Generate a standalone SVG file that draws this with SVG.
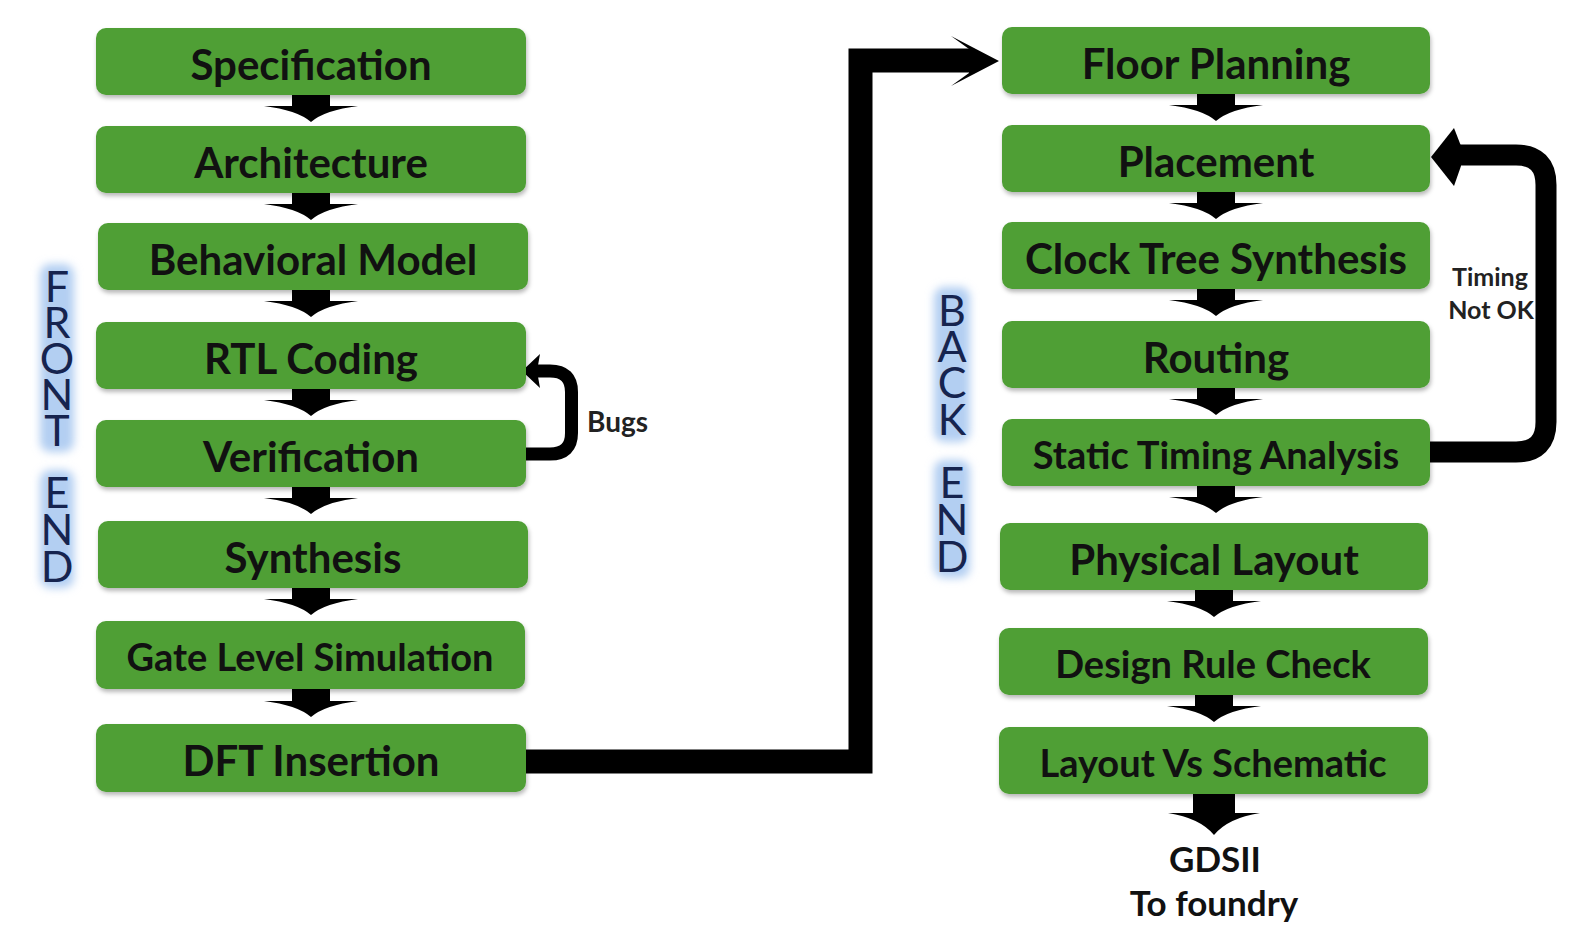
<svg xmlns="http://www.w3.org/2000/svg" width="1588" height="930" viewBox="0 0 1588 930">
<style>
.box{fill:#4f9f36;filter:url(#sh)}
.lbl{font-family:Lato,"Open Sans","Liberation Sans",sans-serif;font-weight:bold;fill:#111;text-anchor:middle;font-size:42px}
.sm{font-size:38px}
.side{font-family:Lato,"Open Sans","Liberation Sans",sans-serif;fill:#16244f;font-size:43px;text-anchor:middle}
.glow{fill:#b3cff2;filter:url(#gl)}
.note{font-family:Lato,"Open Sans","Liberation Sans",sans-serif;font-weight:bold;fill:#222}
.conn{fill:none;stroke:#000}
.ah{fill:#000}
</style>
<defs>
<filter id="sh" x="-5%" y="-15%" width="110%" height="140%"><feDropShadow dx="1" dy="3" stdDeviation="2" flood-color="#000" flood-opacity="0.28"/></filter>
<filter id="gl" x="-50%" y="-20%" width="200%" height="140%"><feGaussianBlur stdDeviation="4"/></filter>
<path id="darr" d="M-19,-2 H19 V11 H47 Q14,15 0,27 Q-14,15 -47,11 H-19 Z"/>
<path id="darr2" d="M-21,-2 H21 V19 H46 Q14,24 0,41 Q-14,24 -46,19 H-21 Z"/>
</defs>
<rect width="1588" height="930" fill="#fff"/>

<g id="front-end-label">
<rect class="glow" x="40" y="264" width="34" height="188" rx="10"/>
<rect class="glow" x="40" y="470" width="34" height="118" rx="10"/>
<text class="side" x="57 57 57 57 57" y="302 338 374 410 446">FRONT</text>
<text class="side" x="57 57 57" y="508 545 582">END</text>
</g>
<g id="back-end-label">
<rect class="glow" x="934" y="287" width="36" height="155" rx="10"/>
<rect class="glow" x="934" y="460" width="36" height="118" rx="10"/>
<text class="side" x="952 952 952 952" y="326 362 398 435">BACK</text>
<text class="side" x="952 952 952" y="498 535 572">END</text>
</g>

<g id="connectors">
<use href="#darr" x="311" y="95"/>
<use href="#darr" x="311" y="193"/>
<use href="#darr" x="311" y="290"/>
<use href="#darr" x="311" y="389"/>
<use href="#darr" x="311" y="487"/>
<use href="#darr" x="311" y="588"/>
<use href="#darr" x="311" y="690"/>
<use href="#darr" x="1216" y="94"/>
<use href="#darr" x="1216" y="192"/>
<use href="#darr" x="1216" y="289"/>
<use href="#darr" x="1216" y="388"/>
<use href="#darr" x="1216" y="486"/>
<use href="#darr" x="1214" y="590"/>
<use href="#darr" x="1214" y="695"/>
<use href="#darr2" x="1214" y="794"/>
<path class="conn" stroke-width="13" d="M524 454 H550 Q571.5 454 571.5 433 V392 Q571.5 371 550 371 H536"/>
<polygon class="ah" points="522,371 540,354 537,371 540,388"/>
<path class="conn" stroke-width="21" d="M1428 452 H1516 Q1546 452 1546 422 V185 Q1546 155 1516 155 H1456"/>
<polygon class="ah" points="1431,157 1454,128 1461,146 1461,166 1454,186"/>
<path class="conn" stroke-width="24" stroke-linejoin="miter" d="M524 761.5 H860.5 V60.5 H972"/>
<polygon class="ah" points="999,61 951,36 969,49 969,73 951,86"/>
</g>

<g id="n-spec"><rect class="box" x="96" y="28" width="430" height="67" rx="10"/><text class="lbl" x="311" y="80">Specification</text></g>
<g id="n-arch"><rect class="box" x="96" y="126" width="430" height="67" rx="10"/><text class="lbl" x="311" y="178">Architecture</text></g>
<g id="n-behav"><rect class="box" x="98" y="223" width="430" height="67" rx="10"/><text class="lbl" x="313" y="275">Behavioral Model</text></g>
<g id="n-rtl"><rect class="box" x="96" y="322" width="430" height="67" rx="10"/><text class="lbl" x="311" y="374">RTL Coding</text></g>
<g id="n-verif"><rect class="box" x="96" y="420" width="430" height="67" rx="10"/><text class="lbl" x="311" y="472">Verification</text></g>
<g id="n-synth"><rect class="box" x="98" y="521" width="430" height="67" rx="10"/><text class="lbl" x="313" y="573">Synthesis</text></g>
<g id="n-gls"><rect class="box" x="96" y="621" width="429" height="68" rx="10"/><text class="lbl sm" x="310" y="671">Gate Level Simulation</text></g>
<g id="n-dft"><rect class="box" x="96" y="724" width="430" height="68" rx="10"/><text class="lbl" x="311" y="776">DFT Insertion</text></g>

<g id="n-fp"><rect class="box" x="1002" y="27" width="428" height="67" rx="10"/><text class="lbl" x="1216" y="79">Floor Planning</text></g>
<g id="n-place"><rect class="box" x="1002" y="125" width="428" height="67" rx="10"/><text class="lbl" x="1216" y="177">Placement</text></g>
<g id="n-cts"><rect class="box" x="1002" y="222" width="428" height="67" rx="10"/><text class="lbl" x="1216" y="274">Clock Tree Synthesis</text></g>
<g id="n-route"><rect class="box" x="1002" y="321" width="428" height="67" rx="10"/><text class="lbl" x="1216" y="373">Routing</text></g>
<g id="n-sta"><rect class="box" x="1002" y="419" width="428" height="67" rx="10"/><text class="lbl sm" x="1216" y="469">Static Timing Analysis</text></g>
<g id="n-phys"><rect class="box" x="1000" y="523" width="428" height="67" rx="10"/><text class="lbl" x="1214" y="575">Physical Layout</text></g>
<g id="n-drc"><rect class="box" x="999" y="628" width="429" height="67" rx="10"/><text class="lbl sm" x="1213" y="678">Design Rule Check</text></g>
<g id="n-lvs"><rect class="box" x="999" y="727" width="429" height="67" rx="10"/><text class="lbl sm" x="1213" y="777">Layout Vs Schematic</text></g>

<g id="n-gdsii"><text class="lbl" style="font-size:35px" x="1215" y="872">GDSII</text><text class="lbl" style="font-size:35px" x="1214" y="916">To foundry</text></g>

<text class="note" x="587" y="432" font-size="28">Bugs</text>
<text class="note" x="1490" y="286" font-size="25" text-anchor="middle">Timing</text>
<text class="note" x="1491" y="319" font-size="25" text-anchor="middle">Not OK</text>
</svg>
